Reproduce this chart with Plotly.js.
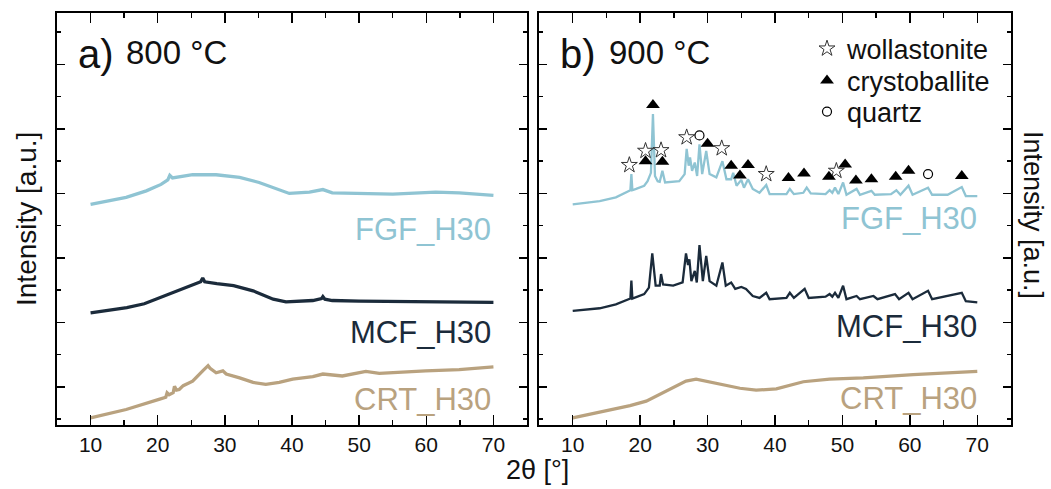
<!DOCTYPE html>
<html>
<head>
<meta charset="utf-8">
<script src="https://cdn.plot.ly/plotly-3.0.1.min.js"></script>
<style>html,body{margin:0;padding:0;background:#fff;}#chart{width:1051px;height:489px;}</style>
</head>
<body>
<div id="chart"></div>
<script>
// ---- 800 °C panel ----
const x800_FGF = [10, 12.5, 15.3, 18.3, 20.5, 21.5, 21.8, 22.2, 25.2, 28.7, 32.2, 35.1, 37.6, 39.6, 42.6, 44.6, 46, 50, 55, 61.4, 64.9, 70];
const y800_FGF = [28.3, 28.8, 29.4, 30.4, 31.4, 32.1, 32.8, 32.4, 32.9, 32.9, 32.5, 31.7, 30.7, 30.0, 30.2, 30.6, 30.1, 30.0, 29.9, 30.2, 30.1, 29.7];
const x800_MCF = [10, 12.5, 15.4, 18, 20.3, 24.3, 26.4, 26.7, 27, 28.8, 31.3, 34.2, 37.2, 39.1, 43.1, 44.4, 44.6, 44.9, 46, 50, 59.9, 70];
const y800_MCF = [11.5, 11.9, 12.3, 12.9, 13.8, 15.4, 16.3, 16.9, 16.3, 16.0, 15.7, 14.9, 13.6, 13.2, 13.4, 13.7, 14.0, 13.6, 13.4, 13.3, 13.2, 13.1];
const x800_CRT = [10, 15.3, 20.3, 21.2, 21.4, 21.7, 22.3, 22.5, 22.8, 23.2, 23.8, 25.2, 26.7, 27.5, 27.8, 28.7, 29.7, 30.2, 32.2, 34.2, 36.1, 38.1, 40.1, 43.1, 44.6, 47.5, 51, 53, 59.9, 64.9, 70];
const y800_CRT = [-4.8, -3.5, -1.9, -1.6, -0.9, -1.2, -0.9, 0.1, -0.5, -0.4, 0.2, 0.9, 2.5, 3.3, 2.9, 2.2, 2.5, 2.0, 1.4, 0.7, 0.4, 0.7, 1.2, 1.6, 2.0, 1.7, 2.4, 2.1, 2.5, 2.7, 3.1];

// ---- 900 °C panel ----
const x900_FGF = [10, 14, 16.4, 17.9, 18.55, 18.7, 18.85, 19.4, 20.6, 21.1, 21.6, 21.9, 22.2, 22.6, 22.9, 23.3, 23.7, 25.8, 26.6, 26.9, 27.2, 27.4, 27.7, 28.1, 28.45, 28.8, 29.2, 29.8, 30.3, 31.3, 32.2, 32.8, 33.5, 33.8, 34.3, 35.0, 35.4, 36.0, 36.7, 37.7, 38.7, 39.2, 41.7, 42.2, 42.8, 44.2, 44.7, 45.3, 47.5, 48.1, 48.5, 48.9, 49.4, 50.1, 50.6, 52.1, 52.6, 54.3, 54.8, 57.2, 58.0, 58.6, 59.8, 60.4, 62.7, 63.3, 65.6, 67.7, 68.3, 70];
const y900_FGF = [28.3, 28.8, 29.4, 30.1, 30.5, 33.0, 30.5, 30.7, 31.2, 31.9, 33.2, 42.3, 32.7, 31.9, 31.8, 33.5, 31.7, 31.9, 33.0, 36.9, 34.3, 35.6, 33.5, 34.8, 32.7, 37.6, 33.0, 36.6, 33.0, 32.5, 35.0, 32.2, 32.2, 33.2, 31.2, 32.1, 30.9, 32.2, 30.7, 30.1, 31.3, 29.9, 29.9, 30.7, 29.9, 30.1, 30.9, 30.0, 29.9, 30.5, 30.1, 30.9, 29.9, 31.7, 29.8, 30.7, 29.8, 30.4, 29.8, 29.9, 30.5, 29.8, 31.2, 29.8, 30.9, 29.8, 29.8, 31.0, 29.6, 29.6];
const x900_MCF = [10, 14, 16.4, 18.2, 18.55, 18.7, 18.85, 20.6, 21.3, 21.8, 22.3, 22.9, 23.1, 23.4, 24.9, 26.3, 26.8, 27.1, 27.3, 27.6, 28.1, 28.4, 28.8, 29.3, 29.8, 30.3, 31.3, 32.2, 32.7, 33.5, 34.1, 35.0, 35.7, 36.7, 37.7, 38.7, 39.2, 41.7, 42.2, 42.8, 44.4, 45.0, 47.5, 48.1, 48.5, 48.9, 49.4, 50.1, 50.6, 52.1, 52.6, 54.6, 55.2, 57.8, 58.4, 59.8, 60.4, 62.7, 63.3, 67.7, 68.3, 70];
const y900_MCF = [11.8, 12.2, 12.8, 13.6, 13.7, 16.5, 13.7, 14.4, 15.4, 20.7, 15.7, 15.7, 17.5, 15.9, 15.7, 16.2, 20.7, 18.9, 19.8, 16.4, 18.0, 16.2, 22.0, 16.4, 20.3, 16.4, 15.7, 19.3, 15.7, 16.2, 15.2, 15.5, 15.2, 14.1, 13.8, 14.6, 13.6, 13.8, 14.6, 13.8, 15.2, 13.8, 14.0, 14.4, 14.0, 14.6, 13.8, 15.7, 13.6, 14.1, 13.6, 14.1, 13.6, 14.4, 13.6, 14.6, 13.6, 14.9, 13.6, 14.6, 13.3, 13.1];
const x900_CRT = [10, 15.9, 18.5, 20.9, 24.4, 26.8, 28.3, 29.8, 32.3, 34.8, 37.2, 40.2, 44.2, 48.1, 53.1, 60.5, 70];
const y900_CRT = [-4.8, -3.5, -2.9, -2.2, -0.4, 0.9, 1.2, 0.9, 0.4, -0.2, -0.5, -0.3, 0.8, 1.2, 1.4, 1.9, 2.4];

// phase markers (900 °C, FGF_H30)
const wollastonite_x = [18.4, 20.8, 23.1, 26.9, 32.1, 38.7, 49.1];
const wollastonite_y = [34.4, 36.6, 36.7, 38.7, 37.0, 33.0, 33.5];
const crystoballite_x = [21.9, 20.8, 23.3, 30.0, 33.5, 36.0, 34.8, 42.0, 44.3, 48.0, 50.4, 52.0, 54.3, 57.9, 59.8, 67.7];
const crystoballite_y = [43.7, 35.0, 34.9, 37.7, 34.3, 34.4, 32.8, 32.4, 33.1, 32.6, 34.5, 32.0, 32.2, 32.6, 33.5, 32.7];
const quartz_x = [28.8, 62.7];
const quartz_y = [39.0, 33.0];

const sampleNames = ['FGF_H30', 'MCF_H30', 'CRT_H30'];
const panelTitles = ['800 °C', '900 °C'];
const panelLetters = ['a)', 'b)'];
const phaseNames = ['wollastonite', 'crystoballite', 'quartz'];
const xTickVals = [10, 20, 30, 40, 50, 60, 70];

const C_FGF = '#8fc4d3', C_MCF = '#1b2b3b', C_CRT = '#b9a27f';
const FONT = 'Liberation Sans, Arial, sans-serif';

function line(x, y, color, xa, ya, w) {
  return {x: x, y: y, type: 'scatter', mode: 'lines', xaxis: xa, yaxis: ya,
          line: {color: color, width: w}, showlegend: false, hoverinfo: 'skip'};
}

const traces = [
  line(x800_FGF, y800_FGF, C_FGF, 'x', 'y', 3.3),
  line(x800_MCF, y800_MCF, C_MCF, 'x', 'y', 3.3),
  line(x800_CRT, y800_CRT, C_CRT, 'x', 'y', 3.3),
  line(x900_FGF, y900_FGF, C_FGF, 'x2', 'y2', 2.3),
  line(x900_MCF, y900_MCF, C_MCF, 'x2', 'y2', 2.3),
  line(x900_CRT, y900_CRT, C_CRT, 'x2', 'y2', 3.2),
  {x: wollastonite_x, y: wollastonite_y, type: 'scatter', mode: 'markers', xaxis: 'x2', yaxis: 'y2',
   name: phaseNames[0], legend: 'legend',
   marker: {symbol: 'star-open', size: 12, color: '#333', line: {width: 1, color: '#333'}}},
  {x: crystoballite_x, y: crystoballite_y, type: 'scatter', mode: 'markers', xaxis: 'x2', yaxis: 'y2',
   name: phaseNames[1], legend: 'legend2',
   marker: {symbol: 'triangle-up', size: 12, color: '#000'}},
  {x: quartz_x, y: quartz_y, type: 'scatter', mode: 'markers', xaxis: 'x2', yaxis: 'y2',
   name: phaseNames[2], legend: 'legend3',
   marker: {symbol: 'circle-open', size: 9, color: '#000', line: {width: 1.2, color: '#000'}}}
];

function xaxis(domain, anchor) {
  return {domain: domain, anchor: anchor, range: [5, 75], tickvals: xTickVals,
          ticks: 'inside', ticklen: 10, tickwidth: 1.5, tickcolor: '#000',
          showline: true, linecolor: '#000', linewidth: 2, mirror: 'ticks',
          showgrid: false, zeroline: false,
          tickfont: {family: FONT, size: 21, color: '#111'},
          minor: {dtick: 5, tick0: 0, ticks: 'inside', ticklen: 5, tickwidth: 1.5, tickcolor: '#000', showgrid: false}};
}
function yaxis(anchor) {
  return {domain: [0.1309, 0.9724], anchor: anchor, range: [-5.9, 57.9], tick0: 0, dtick: 10,
          ticks: 'inside', ticklen: 8, tickwidth: 1.5, tickcolor: '#000', showticklabels: false,
          showline: true, linecolor: '#000', linewidth: 2, mirror: 'ticks',
          showgrid: false, zeroline: false,
          minor: {dtick: 5, tick0: 0, ticks: 'inside', ticklen: 4, tickwidth: 1.5, tickcolor: '#000', showgrid: false}};
}

function ann(text, xref, yref, x, y, size, color, xanchor, extra) {
  return Object.assign({text: text, xref: xref, yref: yref, x: x, y: y, showarrow: false,
    xanchor: xanchor, yanchor: 'middle', font: {family: FONT, size: size, color: color}}, extra || {});
}

const annotations = [
  ann(panelLetters[0], 'x', 'y', 7.9, 51.6, 40, '#111', 'left'),
  ann(panelTitles[0], 'x', 'y', 15.0, 51.8, 33, '#111', 'left'),
  ann(panelLetters[1], 'x2', 'y2', 7.8, 51.6, 40, '#111', 'left'),
  ann(panelTitles[1], 'x2', 'y2', 15.1, 51.8, 33, '#111', 'left'),
  ann(sampleNames[0], 'x', 'y', 69.9, 24.4, 31, C_FGF, 'right'),
  ann(sampleNames[1], 'x', 'y', 69.9, 8.4, 31, C_MCF, 'right'),
  ann(sampleNames[2], 'x', 'y', 69.9, -1.9, 31, C_CRT, 'right'),
  ann(sampleNames[0], 'x2', 'y2', 70.2, 26.1, 31, C_FGF, 'right'),
  ann(sampleNames[1], 'x2', 'y2', 70.2, 9.3, 31, C_MCF, 'right'),
  ann(sampleNames[2], 'x2', 'y2', 70.2, -1.8, 31, C_CRT, 'right'),
  ann('Intensity [a.u.]', 'paper', 'paper', 26/1051, 1 - 219/489, 28, '#111', 'center', {textangle: -90}),
  ann('Intensity [a.u.]', 'paper', 'paper', 1033/1051, 1 - 215/489, 27, '#111', 'center', {textangle: 90}),
  ann('2θ [°]', 'paper', 'paper', 537/1051, 1 - 470/489, 27, '#111', 'center')
];

function legendAt(py) {
  return {x: 807/1051, y: 1 - py/489, xanchor: 'left', yanchor: 'middle', bgcolor: 'rgba(0,0,0,0)',
          font: {family: FONT, size: 27, color: '#111'}, itemsizing: 'trace'};
}

const layout = {
  width: 1051, height: 489,
  margin: {l: 0, r: 0, t: 0, b: 0},
  paper_bgcolor: '#fff', plot_bgcolor: '#fff',
  xaxis: xaxis([57/1051, 527/1051], 'y'),
  yaxis: yaxis('x'),
  xaxis2: xaxis([539/1051, 1011/1051], 'y2'),
  yaxis2: yaxis('x2'),
  showlegend: true,
  legend: legendAt(49),
  legend2: legendAt(81),
  legend3: legendAt(112),
  annotations: annotations
};

Plotly.newPlot('chart', traces, layout, {staticPlot: true, displayModeBar: false});
</script>
</body>
</html>
